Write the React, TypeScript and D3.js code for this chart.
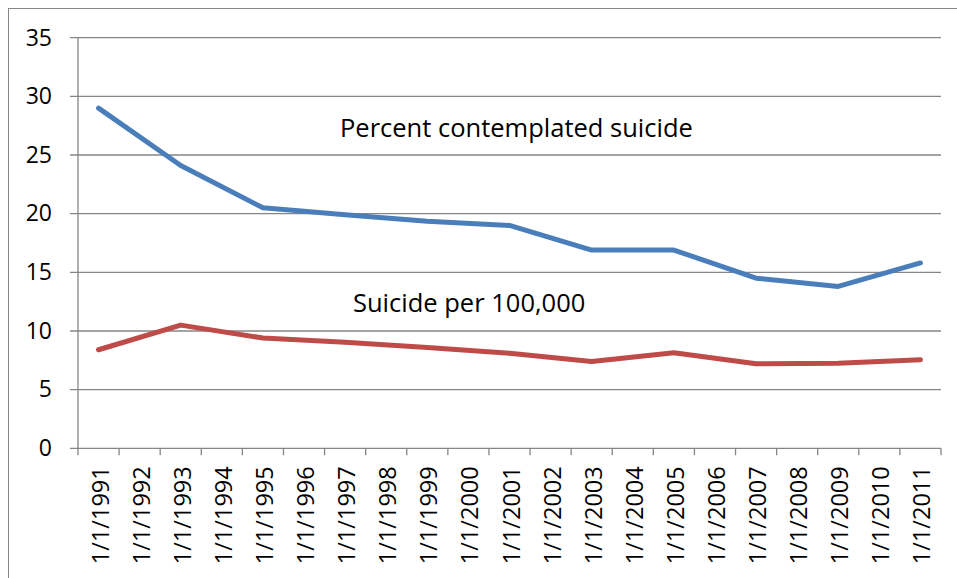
import React from "react";
import * as d3 from "d3";

const years: string[] = [
  "1991","1992","1993","1994","1995","1996","1997","1998","1999","2000",
  "2001","2002","2003","2004","2005","2006","2007","2008","2009","2010","2011",
];
const categories: string[] = years.map((y) => `1/1/${y}`);
const contemplated: (number | null)[] = [
  29.0, null, 24.1, null, 20.5, null, 19.9, null, 19.35, null,
  19.0, null, 16.9, null, 16.9, null, 14.5, null, 13.8, null, 15.8,
];
const suicideRate: (number | null)[] = [
  8.4, null, 10.5, null, 9.4, null, 9.05, null, 8.6, null,
  8.1, null, 7.4, null, 8.15, null, 7.2, null, 7.25, null, 7.55,
];
const yTicks: number[] = [0, 5, 10, 15, 20, 25, 30, 35];
const seriesLabels: string[] = ["Percent contemplated suicide", "Suicide per 100,000"];

const W = 957;
const H = 578;
const left = 78;
const right = 941;
const top = 37.7;
const bottom = 448.3;
const FONT = "'Open Sans', Lato, sans-serif";

export default function App() {
  const x = d3.scaleBand<string>().domain(categories).range([left, right]).padding(0);
  const y = d3.scaleLinear().domain([0, 35]).range([bottom, top]);
  const cx = (c: string) => (x(c) as number) + x.bandwidth() / 2;

  const mk = (vals: (number | null)[]) => {
    const pts = categories
      .map((c, i) => ({ c, v: vals[i] }))
      .filter((d) => d.v !== null) as { c: string; v: number }[];
    return d3
      .line<{ c: string; v: number }>()
      .x((d) => cx(d.c))
      .y((d) => y(d.v))(pts) as string;
  };

  const boundaries = d3.range(categories.length + 1).map((i) => left + i * x.bandwidth());

  return (
    <svg
      width={W}
      height={H}
      style={{ position: "absolute", left: 0, top: 0, background: "#fff" }}
      fontFamily={FONT}
    >
      <rect x={8.5} y={8.5} width={W} height={H} fill="#fff" stroke="#868686" strokeWidth={1} />
      {yTicks.map((t) => (
        <g key={t}>
          <line
            x1={left - 8}
            x2={right}
            y1={y(t)}
            y2={y(t)}
            stroke="#868686"
            strokeWidth={1.3}
          />
          <text x={52} y={y(t) + 7.8} textAnchor="end" fontSize={23} fill="#000">
            {t}
          </text>
        </g>
      ))}
      <line x1={left} x2={left} y1={top} y2={bottom} stroke="#868686" strokeWidth={1.3} />
      {boundaries.map((b, i) => (
        <line key={i} x1={b} x2={b} y1={bottom} y2={bottom + 7} stroke="#868686" strokeWidth={1.3} />
      ))}
      {categories.map((c) => (
        <text
          key={c}
          transform={`translate(${cx(c) + 10},${bottom + 18}) rotate(-90)`}
          textAnchor="end"
          fontSize={23.5}
          fill="#000"
        >
          {c}
        </text>
      ))}
      <path d={mk(contemplated)} fill="none" stroke="#4A7EBB" strokeWidth={5} strokeLinejoin="round" strokeLinecap="round" />
      <path d={mk(suicideRate)} fill="none" stroke="#BE4B48" strokeWidth={5} strokeLinejoin="round" strokeLinecap="round" />
      <text x={340} y={137.3} fontSize={25.5} fill="#000">{seriesLabels[0]}</text>
      <text x={353} y={312} fontSize={25.5} fill="#000">{seriesLabels[1]}</text>
    </svg>
  );
}
